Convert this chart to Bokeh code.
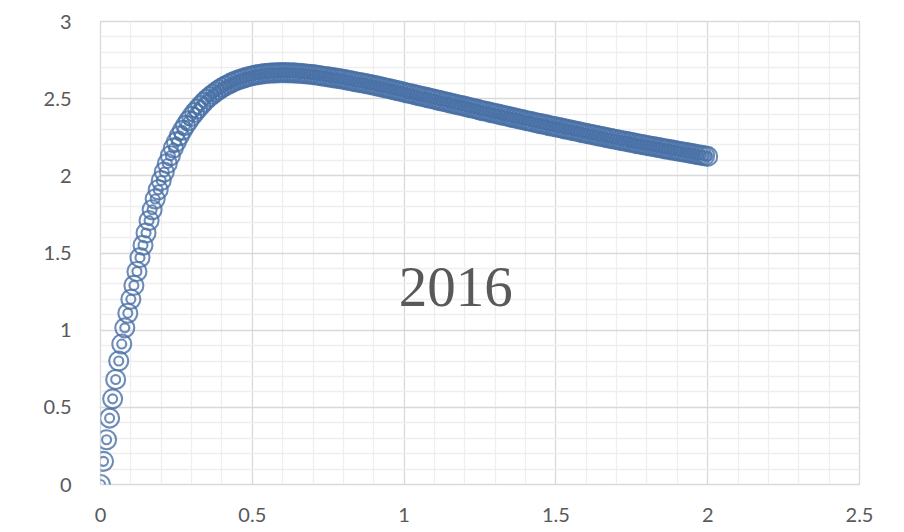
from bokeh.plotting import figure
from bokeh.models import ColumnDataSource, FixedTicker, Range1d, Label
from bokeh.embed import file_html
from bokeh.resources import INLINE

# ---- data ----
x_values = [
    0.00, 0.01, 0.02, 0.03, 0.04, 0.05, 0.06, 0.07, 0.08, 0.09,
    0.10, 0.11, 0.12, 0.13, 0.14, 0.15, 0.16, 0.17, 0.18, 0.19,
    0.20, 0.21, 0.22, 0.23, 0.24, 0.25, 0.26, 0.27, 0.28, 0.29,
    0.30, 0.31, 0.32, 0.33, 0.34, 0.35, 0.36, 0.37, 0.38, 0.39,
    0.40, 0.41, 0.42, 0.43, 0.44, 0.45, 0.46, 0.47, 0.48, 0.49,
    0.50, 0.51, 0.52, 0.53, 0.54, 0.55, 0.56, 0.57, 0.58, 0.59,
    0.60, 0.61, 0.62, 0.63, 0.64, 0.65, 0.66, 0.67, 0.68, 0.69,
    0.70, 0.71, 0.72, 0.73, 0.74, 0.75, 0.76, 0.77, 0.78, 0.79,
    0.80, 0.81, 0.82, 0.83, 0.84, 0.85, 0.86, 0.87, 0.88, 0.89,
    0.90, 0.91, 0.92, 0.93, 0.94, 0.95, 0.96, 0.97, 0.98, 0.99,
    1.00, 1.01, 1.02, 1.03, 1.04, 1.05, 1.06, 1.07, 1.08, 1.09,
    1.10, 1.11, 1.12, 1.13, 1.14, 1.15, 1.16, 1.17, 1.18, 1.19,
    1.20, 1.21, 1.22, 1.23, 1.24, 1.25, 1.26, 1.27, 1.28, 1.29,
    1.30, 1.31, 1.32, 1.33, 1.34, 1.35, 1.36, 1.37, 1.38, 1.39,
    1.40, 1.41, 1.42, 1.43, 1.44, 1.45, 1.46, 1.47, 1.48, 1.49,
    1.50, 1.51, 1.52, 1.53, 1.54, 1.55, 1.56, 1.57, 1.58, 1.59,
    1.60, 1.61, 1.62, 1.63, 1.64, 1.65, 1.66, 1.67, 1.68, 1.69,
    1.70, 1.71, 1.72, 1.73, 1.74, 1.75, 1.76, 1.77, 1.78, 1.79,
    1.80, 1.81, 1.82, 1.83, 1.84, 1.85, 1.86, 1.87, 1.88, 1.89,
    1.90, 1.91, 1.92, 1.93, 1.94, 1.95, 1.96, 1.97, 1.98, 1.99,
    2.00,
]

y_values = [
    0.000, 0.150, 0.290, 0.430, 0.555, 0.680, 0.800, 0.910, 1.015, 1.110,
    1.200, 1.290, 1.380, 1.470, 1.550, 1.630, 1.710, 1.780, 1.850, 1.910,
    1.970, 2.025, 2.080, 2.130, 2.180, 2.220, 2.260, 2.295, 2.327, 2.357,
    2.385, 2.410, 2.433, 2.456, 2.477, 2.496, 2.513, 2.529, 2.544, 2.558,
    2.571, 2.582, 2.592, 2.602, 2.611, 2.619, 2.626, 2.632, 2.638, 2.644,
    2.649, 2.653, 2.656, 2.659, 2.662, 2.664, 2.666, 2.667, 2.668, 2.669,
    2.669, 2.669, 2.668, 2.668, 2.667, 2.665, 2.664, 2.662, 2.660, 2.658,
    2.656, 2.653, 2.650, 2.647, 2.644, 2.641, 2.638, 2.635, 2.632, 2.629,
    2.626, 2.622, 2.618, 2.614, 2.610, 2.606, 2.603, 2.599, 2.595, 2.591,
    2.587, 2.583, 2.578, 2.574, 2.569, 2.565, 2.560, 2.556, 2.551, 2.547,
    2.542, 2.537, 2.533, 2.528, 2.524, 2.519, 2.514, 2.510, 2.505, 2.501,
    2.496, 2.491, 2.487, 2.482, 2.478, 2.473, 2.468, 2.464, 2.459, 2.455,
    2.450, 2.445, 2.441, 2.436, 2.432, 2.427, 2.422, 2.418, 2.413, 2.409,
    2.404, 2.400, 2.395, 2.391, 2.386, 2.382, 2.377, 2.373, 2.368, 2.364,
    2.359, 2.355, 2.351, 2.346, 2.342, 2.338, 2.334, 2.330, 2.325, 2.321,
    2.317, 2.313, 2.309, 2.304, 2.300, 2.296, 2.292, 2.288, 2.283, 2.279,
    2.275, 2.271, 2.267, 2.263, 2.259, 2.255, 2.251, 2.247, 2.243, 2.239,
    2.235, 2.231, 2.227, 2.224, 2.220, 2.216, 2.212, 2.208, 2.205, 2.201,
    2.197, 2.193, 2.190, 2.186, 2.183, 2.179, 2.175, 2.172, 2.168, 2.165,
    2.161, 2.158, 2.154, 2.151, 2.147, 2.144, 2.140, 2.137, 2.133, 2.130,
    2.126,
]

x_ticks = [0, 0.5, 1, 1.5, 2, 2.5]
x_tick_labels = ["0", "0.5", "1", "1.5", "2", "2.5"]
x_minor_ticks = [0.1, 0.2, 0.3, 0.4, 0.6, 0.7, 0.8, 0.9, 1.1, 1.2, 1.3, 1.4,
                 1.6, 1.7, 1.8, 1.9, 2.1, 2.2, 2.3, 2.4]
y_ticks = [0, 0.5, 1, 1.5, 2, 2.5, 3]
y_tick_labels = ["0", "0.5", "1", "1.5", "2", "2.5", "3"]
y_minor_ticks = [0.1, 0.2, 0.3, 0.4, 0.6, 0.7, 0.8, 0.9, 1.1, 1.2, 1.3, 1.4,
                 1.6, 1.7, 1.8, 1.9, 2.1, 2.2, 2.3, 2.4, 2.6, 2.7, 2.8, 2.9]
annotation_text = "2016"

# ---- figure ----
p = figure(
    width=896, height=529,
    output_backend="svg", toolbar_location=None,
    x_range=Range1d(0, 2.5), y_range=Range1d(0, 3),
    min_border_left=100, min_border_right=37,
    min_border_top=21, min_border_bottom=45,
    background_fill_color="white", border_fill_color="white",
)
p.frame_width = 759
p.frame_height = 463
p.outline_line_color = "#d9d9d9"
p.outline_line_width = 1.3

label_color = "#595959"
for ax, ticks, labels, minors in (
    (p.xaxis, x_ticks, x_tick_labels, x_minor_ticks),
    (p.yaxis, y_ticks, y_tick_labels, y_minor_ticks),
):
    ax.ticker = FixedTicker(ticks=ticks, minor_ticks=minors)
    ax.major_label_overrides = {t: l for t, l in zip(ticks, labels)}
    ax.axis_line_color = None
    ax.major_tick_line_color = None
    ax.minor_tick_line_color = None
    ax.major_label_text_font = "Lato"
    ax.major_label_text_font_size = "20px"
    ax.major_label_text_color = label_color

p.xaxis.major_label_standoff = 17
p.yaxis.major_label_standoff = 23

for g in (p.xgrid, p.ygrid):
    g.grid_line_color = "#d9d9d9"
    g.grid_line_width = 1.3
    g.minor_grid_line_color = "#eeeeee"
    g.minor_grid_line_width = 1.3

src = ColumnDataSource(data=dict(x=x_values, y=y_values))
marker_color = "#4870a6"
p.scatter("x", "y", source=src, marker="circle", size=19,
          fill_color=None, line_color=marker_color, line_width=2.1, line_alpha=0.8)
p.scatter("x", "y", source=src, marker="circle", size=9,
          fill_color=None, line_color=marker_color, line_width=2.1, line_alpha=0.8)

p.add_layout(Label(
    x=1.17, y=1.28, text=annotation_text,
    text_font="Liberation Serif", text_font_size="57px",
    text_color=label_color, text_align="center", text_baseline="middle",
))

open("out.html", "w").write(file_html(p, INLINE))
